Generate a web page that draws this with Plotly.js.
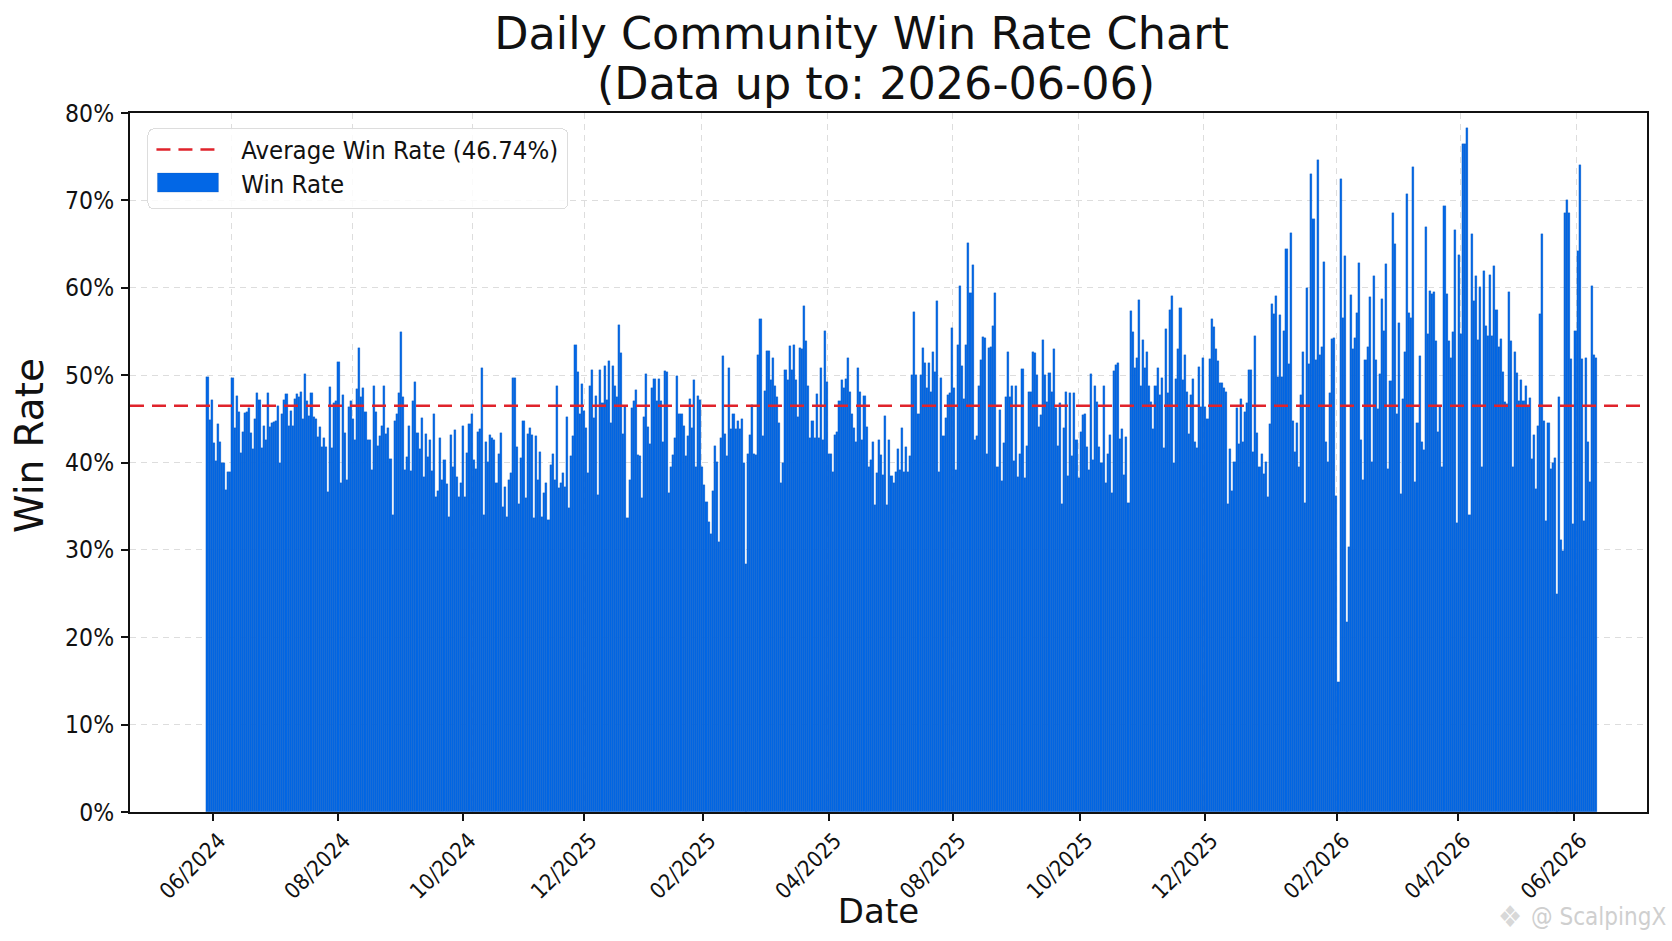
<!DOCTYPE html>
<html>
<head>
<meta charset="utf-8">
<script src="https://cdn.plot.ly/plotly-3.0.1.min.js"></script>
<style>
body { margin: 0; background: #fff; }
/* nudges plotly has no option for */
#chart .legendpoints path { d: path("M33,9.5H-28V-9.5H33Z"); }
#chart .legend rect.bg { rx: 6px; width: 420px; height: 80px; }
#chart .legend .traces:nth-child(1) { translate: 0 -3px; }
#chart .legend .traces:nth-child(2) { translate: 0 -6px; }
#chart g.xtick { translate: 6px -2px; }
#chart g.ytick { translate: -2px 0; }
#chart .ytitle { translate: 3px -17px; }
#chart .xtitle { translate: -10px -10px; }
</style>
</head>
<body>
<div id="chart" style="width:1672px;height:941px"></div>
<script>
// one value per bar left to right (percent)
var winRate = [
  49.8,44.9,47.1,42.2,40.2,44.4,42.3,40,40,36.9,38.9,38.9,49.7,44,47.6,45.8,41.1,43.5,45.7,45.8,
  46.2,43.4,41.6,45,47.9,47.1,41.7,44.2,42.6,47.9,44.1,44.5,44.6,44.8,46.5,39.9,45.5,47.1,47.8,44.2,45.9,
  44.2,47.3,47.8,47.5,48.1,45,50.1,47,45.3,47.9,45.2,45,42.9,44.1,41.8,42.8,41.8,36.6,48.6,41.7,
  46.8,47,51.5,37.7,47.7,43.4,38,46.3,47,45,42.6,48.4,53.1,47.5,48.5,45.8,42.6,42.6,39.1,48.7,45.8,
  41.9,43,44.2,48.7,43.3,43.9,40.4,34,44.8,45.6,48,54.9,47.5,39.1,40.6,44.2,39,47,49.2,43.4,
  41.6,45.1,38.3,43.3,40.6,42.6,39,45.6,36,36.7,42.8,38,40.3,37.5,33.8,43.2,39.5,43.7,
  38.3,36,37.7,44.2,36.1,41.1,44.4,45.6,40.3,39.3,43.5,43.8,50.8,34,42.3,40.1,43.1,42.8,42.6,37.6,
  41,43.4,34.9,37.2,33.8,38,38.8,49.7,49.7,41.8,35.3,40.5,44.7,35.9,43.3,44,43.1,33.7,43,38,
  41.2,33.8,36.5,37.6,33.4,39.7,41,38,48.8,37.1,37.6,38.8,37.2,45.2,34.8,40.8,
  43,53.4,50.4,45.6,49,45.9,43.9,38.8,48.7,50.6,45.1,47.6,36.3,50.6,46.8,51.1,47.1,51.6,44.5,51,
  48.7,47.5,55.7,52.5,43.3,46.4,33.6,38,46.2,47,48.3,40.9,40.7,35.9,45.2,50.1,44.1,42.1,48.5,49.6,
  47,49.6,47,42.4,50.5,50.4,36.5,39.5,40.9,42.8,49.9,45.6,45.5,44.2,40.7,43,47.3,43.9,49.4,39.5,
  47.6,47.1,39.5,37.4,35.5,33.2,31.8,36.7,41.9,40.1,30.9,42.8,52.2,43.3,40.7,50.8,43.8,45.6,43.8,44.7,
  43.8,45,39.9,28.4,41,43.1,46.6,41,40.9,52.3,56.4,43,48.2,52.8,52.8,49.4,52,48.7,47.5,44.5,
  37.7,40,50.6,49.4,53.3,50.6,53.5,49.4,45.2,53.1,53,57.9,53.9,48.7,42.8,44.8,42.8,47.8,42.8,50.8,
  42.6,55,49.2,41,41,38.9,43.1,43.5,47,49.4,48.5,49.6,52,48.1,45.6,43.9,42.4,50.8,48.1,42.6,47.6,
  44.1,39.5,40.3,42.4,35.1,38.8,42.6,40.9,38.6,45.3,35.1,42.6,38.4,37.7,38.9,41.5,39.1,43.9,38.9,41.8,38.9,
  40.7,50,57.2,50,45.5,50,53.1,51.4,48.5,51.4,48.1,52.7,50.4,58.5,38.9,
  49.7,43,45.1,47.7,47.9,55.4,48.5,39.1,53.5,60.2,51.1,47.3,53.4,65.1,59.4,62.6,42.6,43,48.8,51.7,
  54.4,54.2,41,53.1,53.2,55.6,59.4,39.5,46,37.9,42.2,47.5,52.7,47.5,48.7,40.2,48.7,38.3,41,50.7,
  38.2,41.9,48.1,48.1,52.7,52.5,50,44.1,45.4,54,50,46.9,50.2,48.1,53,46.2,41.9,46.8,35.3,43.9,
  48.1,38.4,47.9,40.7,47.9,42.6,38.2,43.5,45.4,45.5,41.8,39.1,50.1,40.3,48.8,46.9,41.8,39.9,48.8,37.7,
  41,43.1,36.5,50.5,51.2,51.4,42.7,43.8,38.6,42.9,35.4,57.3,54.9,50.8,52,58.6,48.7,54,50.8,52.7,
  48.7,46.9,43.8,48.7,50.8,47.7,49.7,41.7,55.3,47.9,57.5,59,40,49.6,53,57.7,49.4,52.3,48.1,43.3,
  47.7,49.5,42.3,41.7,50.9,46.4,52,46.4,45,51.8,56.4,55.5,53,51.6,49.1,49.1,48.5,48.1,35.3,41.6,
  36.7,40.1,46.2,42.1,47.3,42.4,45.8,46.8,50.6,50.6,41.2,54.5,43.4,39.5,41,38.7,40.1,36,44.4,58.1,
  57,59.1,49.8,56.9,49.8,55,64.4,51.3,66.3,44.7,41.2,44.5,39.5,47.7,52.7,35.4,60,
  51.3,73,67.9,51.7,74.6,52.3,53.2,63,42.3,40.1,48,54.1,54.3,36.2,14.9,72.5,56.5,63.6,21.8,30.3,
  59.2,53,54.2,57.1,62.8,42.6,38,51.7,53.2,58.9,40.1,61.4,51.7,46.1,50.1,58.7,55,62.7,39.2,
  49.3,68.5,65,45.6,56,36.4,47.3,52.6,70.7,57.1,56.5,73.8,37.8,44.5,52.2,42.3,41.4,67,54.7,59.6,
  59.3,59.5,53.9,43.5,46.5,39.5,69.4,59.3,53.9,52,54.9,66.6,33.1,63.7,54.7,76.5,76.5,78.3,34,
  66.1,58.5,61.4,54,60.1,39.5,61.9,55.6,54.5,61.5,54.5,62.5,57.4,53.2,54.1,50.4,46.9,46.7,59.5,53.9,
  39.5,52.6,50.3,47,49.4,47,48.7,46.5,47.4,40.4,43.2,37,44.2,57,66.1,44.7,33.3,44.5,39.3,40,
  40.5,25,47.5,31.1,29.9,68.5,70,68.5,51.9,33,55,64.2,74.1,51.9,33.3,52,42.3,37.8,60.2,52.3,52
]
var days = winRate.map((v, i) => i)

var averageRate = 46.5   // where the dashed line sits in the picture
var tickDays = [2.67, 62.75, 123.1, 181.3, 238.5, 298.9, 358.8, 419.9, 480, 543.3, 601.6, 657.5]
var tickLabels = ["06/2024", "08/2024", "10/2024", "12/2025", "02/2025", "04/2025",
                  "08/2025", "10/2025", "12/2025", "02/2026", "04/2026", "06/2026"]
var gridDays = [11.76, 69.96, 127.4, 181.3, 237.6, 298.4, 358.3, 418.9, 479, 543, 602.6, 658.5]
var xRange = [-37.29, 692.4]

var bodyFont = "'DejaVu Sans Condensed', 'DejaVu Sans', sans-serif"
var titleFont = "'DejaVu Sans', sans-serif"

var averageLine = {
  x: xRange,
  y: [averageRate, averageRate],
  mode: "lines",
  name: "\u00a0\u00a0\u00a0Average Win Rate (46.74%)",
  hoverinfo: "skip",
  line: {color: "#e0232b", width: 2.5, dash: "14px,8px"}
}

var bars = {
  type: "bar",
  x: days,
  y: winRate,
  width: 1,
  name: "\u00a0\u00a0\u00a0Win Rate",
  marker: {color: "#0267e6", line: {width: 0.25, color: "#1557b0"}}
}

var layout = {
  width: 1672,
  height: 941,
  margin: {l: 129.5, r: 25.3, t: 112.7, b: 128.5, pad: 0},
  paper_bgcolor: "#ffffff",
  plot_bgcolor: "#ffffff",
  bargap: 0,
  showlegend: true,
  title: {
    text: "Daily Community Win Rate Chart",
    font: {family: titleFont, size: 44.5, color: "#111111"},
    x: 0.5153,
    xanchor: "center",
    y: 0.965,
    yanchor: "middle"
  },
  xaxis: {
    range: xRange,
    tickmode: "array",
    tickvals: tickDays,
    ticktext: tickLabels,
    tickangle: -45,
    tickfont: {family: bodyFont, size: 22, color: "#111111"},
    ticks: "outside",
    ticklen: 7,
    tickwidth: 1.5,
    tickcolor: "#111111",
    showgrid: false,
    zeroline: false,
    showline: true,
    mirror: true,
    linecolor: "#111111",
    linewidth: 2,
    minor: {
      tickmode: "array",
      tickvals: gridDays,
      ticks: "",
      showgrid: true,
      gridcolor: "#dddddd",
      griddash: "6px,5px",
      gridwidth: 1
    },
    title: {text: "Date", font: {family: titleFont, size: 34, color: "#111111"}, standoff: 8}
  },
  yaxis: {
    range: [0, 80],
    tickmode: "array",
    tickvals: [0, 10, 20, 30, 40, 50, 60, 70, 80],
    ticktext: ["0%", "10%", "20%", "30%", "40%", "50%", "60%", "70%", "80%"],
    tickfont: {family: bodyFont, size: 24.5, color: "#111111"},
    ticks: "outside",
    ticklen: 7,
    tickwidth: 1.5,
    tickcolor: "#111111",
    gridcolor: "#dddddd",
    griddash: "6px,5px",
    gridwidth: 1,
    zeroline: false,
    showline: true,
    mirror: true,
    linecolor: "#111111",
    linewidth: 2,
    title: {text: "Win Rate", font: {family: titleFont, size: 39, color: "#111111"}, standoff: 14}
  },
  legend: {
    x: 0.0115,
    y: 0.978,
    xanchor: "left",
    yanchor: "top",
    bgcolor: "rgba(255,255,255,0.85)",
    bordercolor: "#dddddd",
    borderwidth: 1,
    itemwidth: 58,
    indentation: 3,
    font: {family: bodyFont, size: 25.5, color: "#111111"},
    traceorder: "normal"
  },
  annotations: [
    {
      xref: "paper", yref: "paper",
      x: 0.492, y: 1.0424,
      xanchor: "center", yanchor: "middle",
      showarrow: false,
      text: "(Data up to: 2026-06-06)",
      font: {family: titleFont, size: 44.5, color: "#111111"}
    },
    {
      xref: "paper", yref: "paper",
      x: 1.014, y: -0.150,
      xanchor: "right", yanchor: "middle",
      showarrow: false,
      text: "@ ScalpingX",
      font: {family: bodyFont, size: 24, color: "#cfcfcf"}
    },
    {
      xref: "paper", yref: "paper",
      x: 0.9099, y: -0.150,
      xanchor: "center", yanchor: "middle",
      showarrow: false,
      text: "❖",
      font: {family: bodyFont, size: 30, color: "#d8d8d8"}
    }
  ]
}

Plotly.newPlot("chart", [averageLine, bars], layout, {displayModeBar: false})
</script>
</body>
</html>
